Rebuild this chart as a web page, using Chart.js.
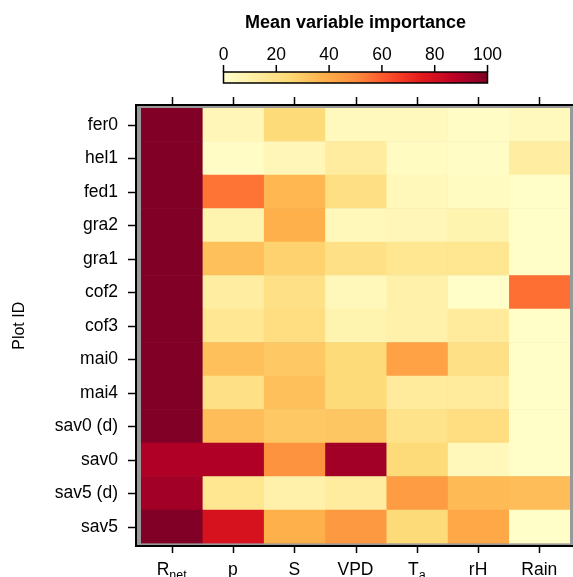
<!DOCTYPE html>
<html>
<head>
<meta charset="utf-8">
<script src="https://cdn.jsdelivr.net/npm/chart.js@4/dist/chart.umd.min.js"></script>
<style>
  html, body { margin: 0; padding: 0; background: #fff; overflow: hidden; }
  canvas { display: block; }
</style>
</head>
<body>
<canvas id="heat" width="573" height="577"></canvas>
<script>
// rows (plot IDs), top to bottom
const plotIds = ['fer0', 'hel1', 'fed1', 'gra2', 'gra1', 'cof2', 'cof3', 'mai0', 'mai4', 'sav0 (d)', 'sav0', 'sav5 (d)', 'sav5'];
// columns (variables); "_" marks a subscript
const variables = ['R_net', 'p', 'S', 'VPD', 'T_a', 'rH', 'Rain'];

// mean variable importance per variable, one value per plot ID
const rnet = [100, 100, 100, 100, 100, 100, 100, 100, 100, 100, 90, 93, 100];
const precip = [6, 2, 55, 8, 33, 12, 16, 33, 20, 34, 90, 17, 79];
const soil = [24, 6, 36, 38, 27, 20, 22, 30, 33, 30, 48, 10, 38];
const vpd = [4, 13, 21, 5, 20, 5, 8, 24, 24, 31, 93, 13, 46];
const tair = [4, 3, 5, 6, 17, 10, 10, 43, 14, 19, 24, 45, 24];
const relhum = [2, 2, 3, 8, 17, 1, 14, 20, 14, 22, 5, 35, 41];
const rain = [4, 12, 1, 1, 1, 56, 1, 1, 1, 1, 1, 34, 1];

const colorbarTicks = [0, 20, 40, 60, 80, 100];

// YlOrRd (ColorBrewer, 9 classes)
const ylOrRd = ['#ffffcc', '#ffeda0', '#fed976', '#feb24c', '#fd8d3c', '#fc4e2a', '#e31a1c', '#bd0026', '#800026'];

function hexToRgb(h) {
    return [parseInt(h.slice(1, 3), 16), parseInt(h.slice(3, 5), 16), parseInt(h.slice(5, 7), 16)];
}

function colorFor(v) {
    const t = Math.max(0, Math.min(1, v / 100)) * (ylOrRd.length - 1);
    const i = Math.min(Math.floor(t), ylOrRd.length - 2);
    const f = t - i;
    const a = hexToRgb(ylOrRd[i]);
    const b = hexToRgb(ylOrRd[i + 1]);
    const c = a.map((x, k) => Math.round(x + (b[k] - x) * f));
    return `rgb(${c[0]},${c[1]},${c[2]})`;
}

const columns = [rnet, precip, soil, vpd, tair, relhum, rain];

const FONT = '"Liberation Sans", Arial, Helvetica, sans-serif';

// frame, ticks, subscripted x labels and the colour key
const latticeDecor = {
    id: 'latticeDecor',
    beforeDatasetsDraw(chart) {
        const { ctx, chartArea: a } = chart;
        ctx.save();
        ctx.fillStyle = '#999999';
        ctx.fillRect(a.left - 5, a.top - 3, a.right - a.left + 10, a.bottom - a.top + 5.5);
        ctx.restore();
    },
    afterDatasetsDraw(chart) {
        const { ctx, chartArea: a } = chart;
        const xs = chart.scales.x;
        const ys = chart.scales.y;
        const boxL = a.left - 5, boxT = a.top - 3, boxB = a.bottom + 2.5, boxR = a.right + 5;

        ctx.save();
        ctx.strokeStyle = '#000';
        ctx.lineWidth = 2;
        ctx.strokeRect(boxL, boxT, boxR - boxL, boxB - boxT);

        // tick marks
        ctx.lineWidth = 1.5;
        ctx.beginPath();
        variables.forEach((v, j) => {
            const x = Math.round(xs.getPixelForValue(j + 0.5)) + 0.5;
            ctx.moveTo(x, boxT - 8); ctx.lineTo(x, boxT);
            ctx.moveTo(x, boxB); ctx.lineTo(x, boxB + 7);
        });
        plotIds.forEach((p, i) => {
            const y = Math.round(ys.getPixelForValue(i)) + 0.5;
            ctx.moveTo(boxL - 8, y); ctx.lineTo(boxL, y);
        });
        ctx.stroke();

        // x labels with subscripts
        ctx.fillStyle = '#000';
        ctx.textBaseline = 'alphabetic';
        ctx.textAlign = 'left';
        const base = 575;
        variables.forEach((v, j) => {
            const [main, sub] = v.split('_');
            ctx.font = `17.5px ${FONT}`;
            const wMain = ctx.measureText(main).width;
            ctx.font = `12.5px ${FONT}`;
            const wSub = sub ? ctx.measureText(sub).width : 0;
            const x0 = xs.getPixelForValue(j + 0.5) - (wMain + wSub) / 2;
            ctx.font = `17.5px ${FONT}`;
            ctx.fillText(main, x0, base);
            if (sub) {
                ctx.font = `12.5px ${FONT}`;
                ctx.fillText(sub, x0 + wMain, base + 4);
            }
        });

        // colour key
        const cbL = 223.5, cbR = 487.5, cbT = 72, cbB = 83;
        const grad = ctx.createLinearGradient(cbL, 0, cbR, 0);
        ylOrRd.forEach((c, k) => grad.addColorStop(k / (ylOrRd.length - 1), c));
        ctx.fillStyle = grad;
        ctx.fillRect(cbL, cbT, cbR - cbL, cbB - cbT);
        ctx.lineWidth = 1.5;
        ctx.strokeStyle = '#000';
        ctx.strokeRect(cbL, cbT, cbR - cbL, cbB - cbT);
        ctx.beginPath();
        ctx.fillStyle = '#000';
        ctx.textAlign = 'center';
        ctx.font = `17.5px ${FONT}`;
        colorbarTicks.forEach(t => {
            const x = cbL + (cbR - cbL) * t / 100;
            ctx.moveTo(x, cbT - 7); ctx.lineTo(x, cbT);
            ctx.fillText(String(t), x, 60);
        });
        ctx.stroke();

        ctx.font = `bold 18px ${FONT}`;
        ctx.fillText('Mean variable importance', (cbL + cbR) / 2, 28);
        ctx.restore();
    }
};

const datasets = variables.map((v, j) => ({
    label: v,
    data: plotIds.map(() => 1),
    backgroundColor: columns[j].map(colorFor),
    borderWidth: 0,
    barPercentage: 1,
    categoryPercentage: 1
}));

new Chart(document.getElementById('heat').getContext('2d'), {
    type: 'bar',
    data: { labels: plotIds, datasets },
    options: {
        indexAxis: 'y',
        responsive: false,
        animation: false,
        events: [],
        layout: { padding: { left: 0, top: 108, right: 3, bottom: 33.5 } },
        scales: {
            x: {
                type: 'linear',
                stacked: true,
                min: 0,
                max: variables.length,
                display: false
            },
            y: {
                stacked: true,
                grid: { display: false, drawTicks: false },
                border: { display: false },
                ticks: {
                    color: '#000',
                    padding: 23,
                    font: { family: FONT, size: 17.5 }
                },
                title: {
                    display: true,
                    text: 'Plot ID',
                    color: '#000',
                    font: { family: FONT, size: 16 },
                    padding: { top: 10, bottom: 0 }
                },
                afterFit(scale) { scale.width = 141; }
            }
        },
        plugins: {
            legend: { display: false },
            tooltip: { enabled: false }
        }
    },
    plugins: [latticeDecor]
});
</script>
</body>
</html>
